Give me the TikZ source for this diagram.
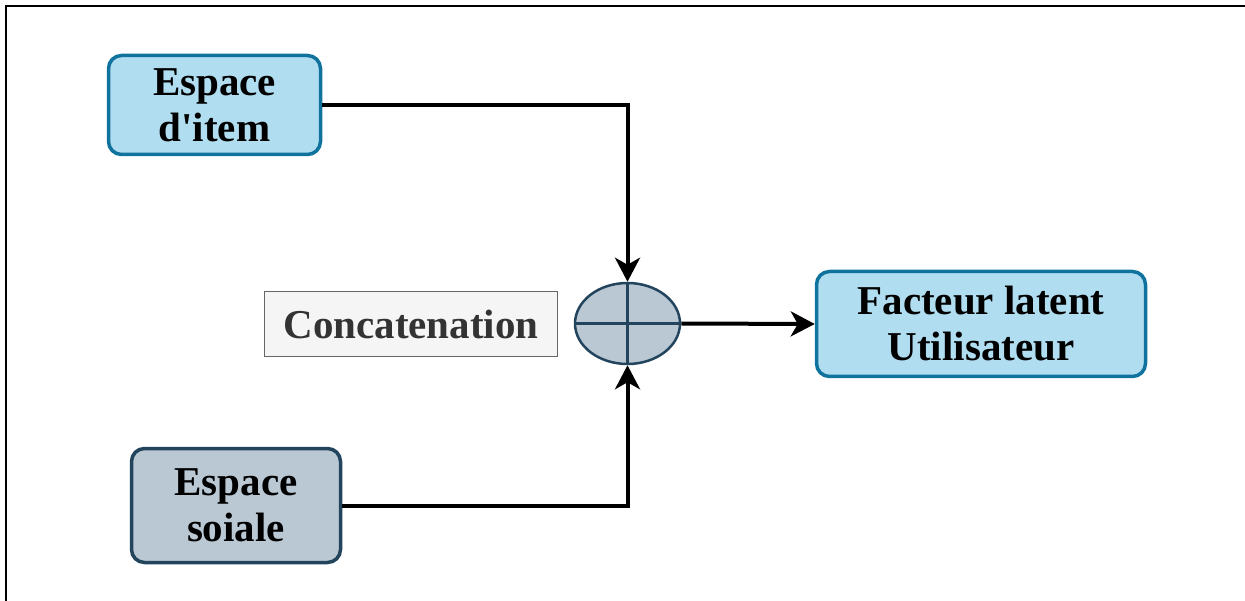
\documentclass[tikz,border=0pt]{standalone}
\usepackage{fontspec}
\setmainfont{Liberation Serif}
\usetikzlibrary{arrows.meta,shapes.geometric}
\definecolor{blueFill}{HTML}{B1DDF0}
\definecolor{blueLine}{HTML}{10739E}
\definecolor{slateFill}{HTML}{BAC8D3}
\definecolor{slateLine}{HTML}{23445D}
\definecolor{greyFill}{HTML}{F5F5F5}
\definecolor{greyLine}{HTML}{666666}
\definecolor{greyText}{HTML}{333333}
\tikzset{
  boxtext/.style={font=\bfseries\fontsize{41}{46}\selectfont, align=center},
  bluebox/.style={boxtext, draw=blueLine, fill=blueFill, line width=3.5pt,
    rounded corners=13pt, inner sep=0pt},
  slatebox/.style={boxtext, draw=slateLine, fill=slateFill, line width=3.5pt,
    rounded corners=13pt, inner sep=0pt},
  labelbox/.style={boxtext, draw=greyLine, fill=greyFill, line width=1.2pt,
    text=greyText, inner sep=0pt},
  sumnode/.style={ellipse, draw=slateLine, fill=slateFill, line width=2.5pt,
    inner sep=0pt},
  link/.style={line width=4pt, -{Stealth[length=24pt,width=25pt,inset=7pt]}}
}
\begin{document}
\begin{tikzpicture}[x=1pt,y=-1pt]
  \useasboundingbox (0,0) rectangle (1245,601);
  % frame lines
  \draw[line width=2.5pt] (6,601) -- (6,6) -- (1245,6);

  \node[bluebox, minimum width=212pt, minimum height=99pt] (item) at (214.5,105) {Espace\\d\textquotesingle item};
  \node[slatebox, minimum width=209pt, minimum height=114pt] (social) at (236,505.5) {Espace\\soiale};
  \node[labelbox, minimum width=293pt, minimum height=65pt] (concat) at (411,324) {Concatenation};
  \node[sumnode, minimum width=105pt, minimum height=81pt] (plus) at (627.5,323.5) {};
  \node[bluebox, minimum width=329pt, minimum height=105pt] (factor) at (981,324) {Facteur latent\\Utilisateur};

  % cross inside the sum node
  \draw[slateLine, line width=2.5pt] (plus.north) -- (plus.south);
  \draw[slateLine, line width=2.5pt] (plus.west) -- (plus.east);

  % connectors
  \draw[link] (item.east) -| (plus.north);
  \draw[link] (social.east) -| (plus.south);
  \draw[link] (plus.east) -- (factor.west);
\end{tikzpicture}
\end{document}
